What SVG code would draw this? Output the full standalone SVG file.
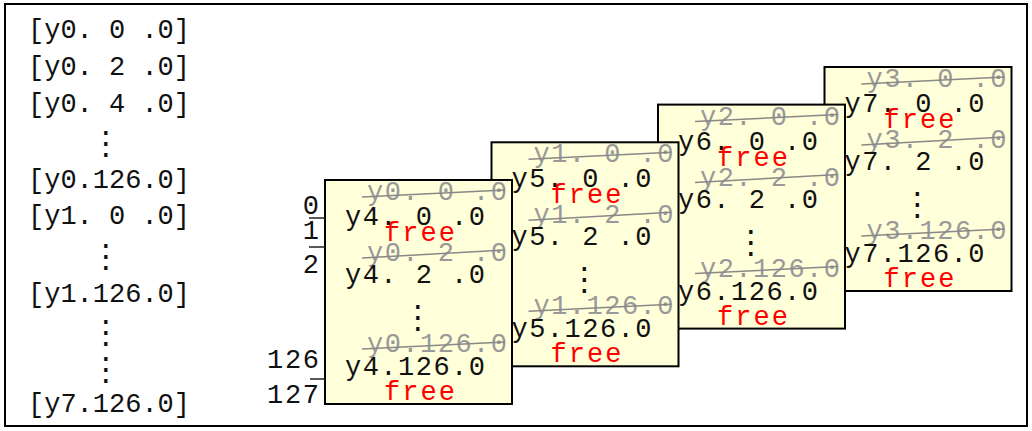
<svg xmlns="http://www.w3.org/2000/svg" width="1032" height="431" viewBox="0 0 1032 431">
<style>
.m{font-family:"Liberation Mono","DejaVu Sans Mono",monospace;font-size:27px}
.v{font-family:"DejaVu Sans",sans-serif;font-size:32px;text-anchor:middle}
.k{fill:#111}
.g{fill:#999}
.r{fill:#ff0000}
.s{stroke:#888;stroke-width:1.5;fill:none}
.card{fill:#ffffd9;stroke:#000;stroke-width:2}
.tick{stroke:#222;stroke-width:1.5}
</style>
<rect x="5" y="4" width="1022" height="422" fill="#fff" stroke="#000" stroke-width="2"/>
<g id="list">
<text class="m k" x="28" y="38" textLength="162">[y0. 0 .0]</text>
<text class="m k" x="28" y="75" textLength="162">[y0. 2 .0]</text>
<text class="m k" x="28" y="112" textLength="162">[y0. 4 .0]</text>
<text class="v k" x="106" y="154">⋮</text>
<text class="m k" x="28" y="188" textLength="162">[y0.126.0]</text>
<text class="m k" x="28" y="224" textLength="162">[y1. 0 .0]</text>
<text class="v k" x="106" y="267">⋮</text>
<text class="m k" x="28" y="302" textLength="162">[y1.126.0]</text>
<text class="v k" x="106" y="343">⋮</text>
<text class="v k" x="106" y="380">⋮</text>
<text class="m k" x="28" y="412" textLength="162">[y7.126.0]</text>
</g>
<g id="card3" transform="translate(824.5,67)">
<rect class="card" x="0" y="0" width="187" height="224"/>
<text class="m g" x="42" y="20" textLength="140">y3. 0 .0</text>
<line class="s" x1="37" y1="17" x2="180" y2="10"/>
<text class="m k" x="20" y="45" textLength="140">y7. 0 .0</text>
<text class="m r" x="59" y="61" textLength="71">free</text>
<text class="m g" x="42" y="81" textLength="140">y3. 2 .0</text>
<line class="s" x1="37" y1="78" x2="180" y2="70"/>
<text class="m k" x="20" y="103" textLength="140">y7. 2 .0</text>
<text class="v k" x="93" y="148">⋮</text>
<text class="m g" x="42" y="172" textLength="140">y3.126.0</text>
<line class="s" x1="37" y1="169" x2="180" y2="162"/>
<text class="m k" x="20" y="195" textLength="140">y7.126.0</text>
<text class="m r" x="59" y="220" textLength="71">free</text>
</g>
<g id="card2" transform="translate(658,104.6)">
<rect class="card" x="0" y="0" width="187" height="224"/>
<text class="m g" x="42" y="20" textLength="140">y2. 0 .0</text>
<line class="s" x1="37" y1="17" x2="180" y2="10"/>
<text class="m k" x="20" y="45" textLength="140">y6. 0 .0</text>
<text class="m r" x="59" y="61" textLength="71">free</text>
<text class="m g" x="42" y="81" textLength="140">y2. 2 .0</text>
<line class="s" x1="37" y1="78" x2="180" y2="70"/>
<text class="m k" x="20" y="103" textLength="140">y6. 2 .0</text>
<text class="v k" x="93" y="148">⋮</text>
<text class="m g" x="42" y="172" textLength="140">y2.126.0</text>
<line class="s" x1="37" y1="169" x2="180" y2="162"/>
<text class="m k" x="20" y="195" textLength="140">y6.126.0</text>
<text class="m r" x="59" y="220" textLength="71">free</text>
</g>
<g id="card1" transform="translate(491.5,142.3)">
<rect class="card" x="0" y="0" width="187" height="224"/>
<text class="m g" x="42" y="20" textLength="140">y1. 0 .0</text>
<line class="s" x1="37" y1="17" x2="180" y2="10"/>
<text class="m k" x="20" y="45" textLength="140">y5. 0 .0</text>
<text class="m r" x="59" y="61" textLength="71">free</text>
<text class="m g" x="42" y="81" textLength="140">y1. 2 .0</text>
<line class="s" x1="37" y1="78" x2="180" y2="70"/>
<text class="m k" x="20" y="103" textLength="140">y5. 2 .0</text>
<text class="v k" x="93" y="148">⋮</text>
<text class="m g" x="42" y="172" textLength="140">y1.126.0</text>
<line class="s" x1="37" y1="169" x2="180" y2="162"/>
<text class="m k" x="20" y="195" textLength="140">y5.126.0</text>
<text class="m r" x="59" y="220" textLength="71">free</text>
</g>
<g id="card0" transform="translate(325,180)">
<rect class="card" x="0" y="0" width="187" height="224"/>
<text class="m g" x="42" y="20" textLength="140">y0. 0 .0</text>
<line class="s" x1="37" y1="17" x2="180" y2="10"/>
<text class="m k" x="20" y="45" textLength="140">y4. 0 .0</text>
<text class="m r" x="59" y="61" textLength="71">free</text>
<text class="m g" x="42" y="81" textLength="140">y0. 2 .0</text>
<line class="s" x1="37" y1="78" x2="180" y2="70"/>
<text class="m k" x="20" y="103" textLength="140">y4. 2 .0</text>
<text class="v k" x="93" y="148">⋮</text>
<text class="m g" x="42" y="172" textLength="140">y0.126.0</text>
<line class="s" x1="37" y1="169" x2="180" y2="162"/>
<text class="m k" x="20" y="195" textLength="140">y4.126.0</text>
<text class="m r" x="59" y="220" textLength="71">free</text>
</g>
<g id="rowlabels">
<text class="m k" x="319" y="214" text-anchor="end">0</text>
<text class="m k" x="319" y="239" text-anchor="end">1</text>
<text class="m k" x="319" y="273" text-anchor="end">2</text>
<text class="m k" x="319" y="368" text-anchor="end" textLength="52">126</text>
<text class="m k" x="319" y="403" text-anchor="end" textLength="52">127</text>
<line class="tick" x1="309" y1="218" x2="325" y2="218"/>
<line class="tick" x1="309" y1="247" x2="325" y2="247"/>
<line class="tick" x1="310" y1="379" x2="325" y2="379"/>
</g>
</svg>
